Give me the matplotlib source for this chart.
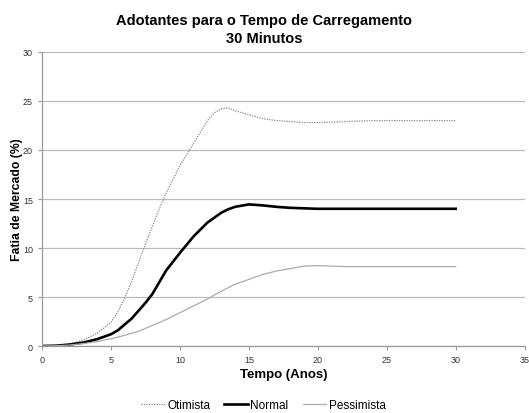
import matplotlib
matplotlib.use("Agg")
import matplotlib.pyplot as plt

plt.rcParams['font.family'] = ['Liberation Sans', 'DejaVu Sans']

# Tempo (anos) and market share (%)
anos = [0, 1, 2, 3, 4, 5, 5.5, 6, 6.5, 7, 7.5, 8, 8.5, 9, 10, 11, 12, 12.5, 13, 13.5, 14, 15,
        16, 17, 18, 19, 20, 21, 22, 23, 24, 25, 26, 27, 28, 29, 30]
otimista = [0, 0.05, 0.2, 0.6, 1.3, 2.4, 3.5, 4.9, 6.6, 8.5, 10.4, 12.2, 14.0, 15.6, 18.4,
            20.7, 23.0, 23.8, 24.2, 24.3, 24.0, 23.6, 23.2, 23.0, 22.9, 22.8, 22.8, 22.85,
            22.9, 22.95, 23.0, 23.0, 23.0, 23.0, 23.0, 23.0, 23.0]
normal = [0, 0.03, 0.15, 0.35, 0.7, 1.2, 1.6, 2.2, 2.8, 3.6, 4.4, 5.3, 6.5, 7.7, 9.5, 11.2,
          12.6, 13.1, 13.6, 13.95, 14.2, 14.45, 14.35, 14.2, 14.1, 14.05, 14.0, 14.0, 14.0,
          14.0, 14.0, 14.0, 14.0, 14.0, 14.0, 14.0, 14.0]
pessimista = [0, 0.03, 0.1, 0.25, 0.45, 0.75, 0.9, 1.1, 1.3, 1.5, 1.8, 2.1, 2.4, 2.7, 3.4,
              4.1, 4.8, 5.2, 5.6, 5.95, 6.3, 6.8, 7.3, 7.65, 7.9, 8.15, 8.2, 8.15, 8.1, 8.1,
              8.1, 8.1, 8.1, 8.1, 8.1, 8.1, 8.1]

fig = plt.figure(figsize=(5.29, 4.14), dpi=100)
ax = fig.add_axes([0.0794, 0.1618, 0.9124, 0.7102])

ax.plot(anos, otimista, color='#888888', linestyle=(0, (1, 1)), linewidth=0.9, label='Otimista')
ax.plot(anos, normal, color='#000000', linewidth=1.9, label='Normal')
ax.plot(anos, pessimista, color='#aaaaaa', linewidth=0.9, label='Pessimista')

ax.set_xlim(0, 35)
ax.set_ylim(0, 30)
ax.set_xticks(range(0, 36, 5))
ax.set_yticks(range(0, 31, 5))
ax.grid(axis='y', color='#bbbbbb', linewidth=0.9)
ax.set_axisbelow(True)
for s in ['top', 'right']:
    ax.spines[s].set_visible(False)
for s in ['left', 'bottom']:
    ax.spines[s].set_color('#999999')
    ax.spines[s].set_linewidth(0.9)
ax.tick_params(labelsize=6.5, colors='#999999', labelcolor='#333333', length=3, width=0.8)

ax.set_xlabel('Tempo (Anos)', fontsize=9.5, fontweight='bold', labelpad=3)
ax.set_ylabel('Fatia de Mercado (%)', fontsize=8.8, fontweight='bold', labelpad=0)
fig.suptitle('Adotantes para o Tempo de Carregamento\n30 Minutos', fontsize=10.5,
             fontweight='bold', y=0.967, linespacing=1.35)

fig.legend(loc='center', bbox_to_anchor=(0.498, 0.02), ncol=3, frameon=False,
           fontsize=8.5, handlelength=2.0, columnspacing=1.2, handletextpad=0.2)

fig.savefig('out.png', dpi=100)
